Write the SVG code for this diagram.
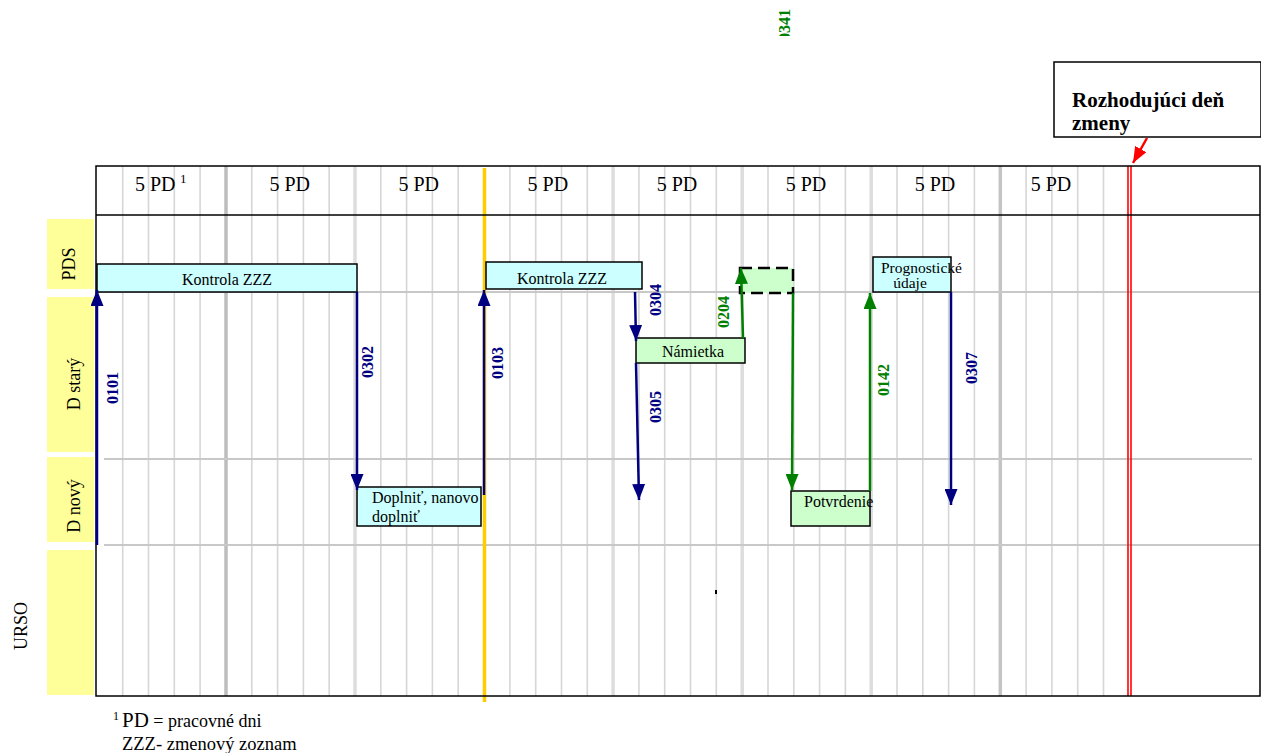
<svg xmlns="http://www.w3.org/2000/svg" width="1261" height="753" viewBox="0 0 1261 753">
<defs>
<style>
.g{stroke:#D6D6D6;stroke-width:1.6}
.gt{stroke:#CACACA;stroke-width:3.5}
.h{stroke:#C8C8C8;stroke-width:2}
.t{font-family:"Liberation Serif","Times New Roman",serif;fill:#000}
.lane{fill:#FFFF99}
.cy{fill:#CCFFFF;stroke:#000;stroke-width:1.5}
.gr{fill:#CCFFCC;stroke:#000;stroke-width:1.5}
.ab{stroke:#000080;stroke-width:2.5;fill:none;marker-end:url(#mb)}
.ag{stroke:#008000;stroke-width:2.5;fill:none;marker-end:url(#mg)}
.lb{font-family:"Liberation Serif","Times New Roman",serif;font-weight:bold;font-size:16px;fill:#000080}
.lg{font-family:"Liberation Serif","Times New Roman",serif;font-weight:bold;font-size:16px;fill:#008000}
</style>
<marker id="mb" viewBox="0 0 16 13" refX="16" refY="6.5" markerWidth="16" markerHeight="13" markerUnits="userSpaceOnUse" orient="auto"><path d="M0,0L16,6.5L0,13z" fill="#000080"/></marker>
<marker id="mg" viewBox="0 0 16 13" refX="16" refY="6.5" markerWidth="16" markerHeight="13" markerUnits="userSpaceOnUse" orient="auto"><path d="M0,0L16,6.5L0,13z" fill="#008000"/></marker>
<marker id="mr" viewBox="0 0 16 13" refX="16" refY="6.5" markerWidth="16" markerHeight="13" markerUnits="userSpaceOnUse" orient="auto"><path d="M0,0L16,6.5L0,13z" fill="#FF0000"/></marker>
<clipPath id="clipTop"><rect x="770" y="0" width="40" height="36"/></clipPath>
</defs>

<g id="lanes">
<rect class="lane" x="47" y="219" width="47" height="70"/>
<rect class="lane" x="47" y="297" width="47" height="155"/>
<rect class="lane" x="47" y="457" width="47" height="85"/>
<rect class="lane" x="47" y="550" width="47" height="145"/>
<text class="t" font-size="18" text-anchor="middle" transform="translate(75,264) rotate(-90)">PDS</text>
<text class="t" font-size="18" text-anchor="middle" transform="translate(80,384) rotate(-90)">D starý</text>
<text class="t" font-size="18" text-anchor="middle" transform="translate(80,506) rotate(-90)">D nový</text>
<text class="t" font-size="18" text-anchor="middle" transform="translate(27,626) rotate(-90)">URSO</text>
</g>

<g id="grid">
<g class="g">
<line x1="122.7" y1="166" x2="122.7" y2="696"/>
<line x1="148.5" y1="166" x2="148.5" y2="696"/>
<line x1="174.3" y1="166" x2="174.3" y2="696"/>
<line x1="200.1" y1="166" x2="200.1" y2="696"/>
<line x1="251.8" y1="166" x2="251.8" y2="696"/>
<line x1="277.6" y1="166" x2="277.6" y2="696"/>
<line x1="303.4" y1="166" x2="303.4" y2="696"/>
<line x1="329.2" y1="166" x2="329.2" y2="696"/>
<line x1="380.8" y1="166" x2="380.8" y2="696"/>
<line x1="406.6" y1="166" x2="406.6" y2="696"/>
<line x1="432.4" y1="166" x2="432.4" y2="696"/>
<line x1="458.2" y1="166" x2="458.2" y2="696"/>
<line x1="509.9" y1="166" x2="509.9" y2="696"/>
<line x1="535.7" y1="166" x2="535.7" y2="696"/>
<line x1="561.5" y1="166" x2="561.5" y2="696"/>
<line x1="587.3" y1="166" x2="587.3" y2="696"/>
<line x1="638.9" y1="166" x2="638.9" y2="696"/>
<line x1="664.7" y1="166" x2="664.7" y2="696"/>
<line x1="690.5" y1="166" x2="690.5" y2="696"/>
<line x1="716.3" y1="166" x2="716.3" y2="696"/>
<line x1="768.0" y1="166" x2="768.0" y2="696"/>
<line x1="793.8" y1="166" x2="793.8" y2="696"/>
<line x1="819.6" y1="166" x2="819.6" y2="696"/>
<line x1="845.4" y1="166" x2="845.4" y2="696"/>
<line x1="897.0" y1="166" x2="897.0" y2="696"/>
<line x1="922.8" y1="166" x2="922.8" y2="696"/>
<line x1="948.6" y1="166" x2="948.6" y2="696"/>
<line x1="974.4" y1="166" x2="974.4" y2="696"/>
<line x1="1026.1" y1="166" x2="1026.1" y2="696"/>
<line x1="1051.9" y1="166" x2="1051.9" y2="696"/>
<line x1="1077.7" y1="166" x2="1077.7" y2="696"/>
<line x1="1103.5" y1="166" x2="1103.5" y2="696"/>
</g>
<g class="gt">
<line x1="226" y1="166" x2="226" y2="696" stroke="#BDBDBD"/>
<line x1="355" y1="166" x2="355" y2="696" stroke="#DDDDDD"/>
<line x1="613.1" y1="166" x2="613.1" y2="696" stroke="#DDDDDD"/>
<line x1="742.2" y1="166" x2="742.2" y2="696" stroke="#DDDDDD"/>
<line x1="871.2" y1="166" x2="871.2" y2="696" stroke="#DDDDDD"/>
<line x1="1000.3" y1="166" x2="1000.3" y2="696" stroke="#C4C4C4"/>
</g>
<g class="h">
<line x1="96" y1="292" x2="1260" y2="292"/>
<line x1="104" y1="459" x2="1252" y2="459"/>
<line x1="104" y1="545" x2="1260" y2="545"/>
</g>
<line x1="484.5" y1="168" x2="484.5" y2="702" stroke="#FFCC00" stroke-width="3.5"/>
<line x1="1128" y1="166" x2="1128" y2="696" stroke="#FF0000" stroke-width="1.6"/>
<line x1="1131" y1="166" x2="1131" y2="696" stroke="#FF0000" stroke-width="1.6"/>
<rect x="96" y="166" width="1164" height="530" fill="none" stroke="#000" stroke-width="1.5"/>
<line x1="96" y1="215" x2="1260" y2="215" stroke="#000" stroke-width="1.5"/>
<rect x="715" y="590" width="2" height="4" fill="#000"/>
</g>

<g id="header" class="t" font-size="20">
<text x="135" y="191">5 PD</text>
<text x="180" y="183" font-size="13">1</text>
<text x="289.7" y="191" text-anchor="middle">5 PD</text>
<text x="418.8" y="191" text-anchor="middle">5 PD</text>
<text x="547.9" y="191" text-anchor="middle">5 PD</text>
<text x="677" y="191" text-anchor="middle">5 PD</text>
<text x="806" y="191" text-anchor="middle">5 PD</text>
<text x="935" y="191" text-anchor="middle">5 PD</text>
<text x="1051" y="191" text-anchor="middle">5 PD</text>
</g>

<g id="node-kontrola1">
<rect class="cy" x="97" y="264" width="260" height="28"/>
<text class="t" font-size="16" x="227" y="285" text-anchor="middle">Kontrola ZZZ</text>
</g>
<g id="node-doplnit">
<rect class="cy" x="357" y="487" width="124" height="39"/>
<text class="t" font-size="16" x="372" y="503">Doplniť, nanovo</text>
<text class="t" font-size="16" x="372" y="522">doplniť</text>
</g>
<g id="node-kontrola2">
<rect class="cy" x="486" y="262" width="156" height="27"/>
<text class="t" font-size="16" x="562" y="284" text-anchor="middle">Kontrola ZZZ</text>
</g>
<g id="node-namietka">
<rect class="gr" x="636" y="338" width="109" height="25"/>
<text class="t" font-size="16" x="693" y="357" text-anchor="middle">Námietka</text>
</g>
<g id="node-dashed">
<rect x="740" y="268" width="53" height="25" fill="#CCFFCC" stroke="#000" stroke-width="2.5" stroke-dasharray="12 6"/>
</g>
<g id="node-potvrdenie">
<rect class="gr" x="791" y="491" width="79" height="35"/>
<text class="t" font-size="16" x="804" y="507">Potvrdenie</text>
</g>
<g id="node-prognosticke">
<rect class="cy" x="873" y="257" width="78" height="35"/>
<text class="t" font-size="15.5" x="881" y="273">Prognostické</text>
<text class="t" font-size="15.5" x="910" y="288" text-anchor="middle">údaje</text>
</g>
<g id="node-rozhodujuci">
<rect x="1054" y="62" width="207" height="75" fill="#fff" stroke="#000" stroke-width="1.5"/>
<text class="t" font-size="21" font-weight="bold" x="1072" y="107">Rozhodujúci deň</text>
<text class="t" font-size="21" font-weight="bold" x="1072" y="130">zmeny</text>
</g>

<g id="connectors">
<line class="ab" x1="97" y1="545" x2="97" y2="290"/>
<line class="ab" x1="357" y1="292" x2="357" y2="490"/>
<line class="ab" x1="484" y1="495" x2="484" y2="290"/>
<line class="ab" x1="635" y1="292" x2="636" y2="341"/>
<line class="ab" x1="636" y1="363" x2="639" y2="500"/>
<line class="ag" x1="743" y1="338" x2="741" y2="268"/>
<line class="ag" x1="793" y1="293" x2="792" y2="490"/>
<line class="ag" x1="870" y1="491" x2="870" y2="293"/>
<line class="ab" x1="951" y1="292" x2="951" y2="505"/>
<line x1="1147" y1="138" x2="1133" y2="163" stroke="#FF0000" stroke-width="2.5" marker-end="url(#mr)"/>
<text class="lb" text-anchor="middle" transform="translate(118,388) rotate(-90)">0101</text>
<text class="lb" text-anchor="middle" transform="translate(373,362) rotate(-90)">0302</text>
<text class="lb" text-anchor="middle" transform="translate(503,363) rotate(-90)">0103</text>
<text class="lb" text-anchor="middle" transform="translate(661,300) rotate(-90)">0304</text>
<text class="lb" text-anchor="middle" transform="translate(661,407) rotate(-90)">0305</text>
<text class="lg" text-anchor="middle" transform="translate(729,312) rotate(-90)">0204</text>
<text class="lg" text-anchor="middle" transform="translate(889,380) rotate(-90)">0142</text>
<text class="lb" text-anchor="middle" transform="translate(977,368) rotate(-90)">0307</text>
<g clip-path="url(#clipTop)"><text class="lg" text-anchor="middle" transform="translate(790,25) rotate(-90)">0341</text></g>
</g>

<g id="footnote" class="t">
<text x="113" y="720" font-size="12">1</text>
<text x="122" y="727" font-size="18"><tspan font-size="21">PD</tspan> = pracovné dni</text>
<text x="122" y="750" font-size="18.5">ZZZ- zmenový zoznam</text>
</g>
</svg>
